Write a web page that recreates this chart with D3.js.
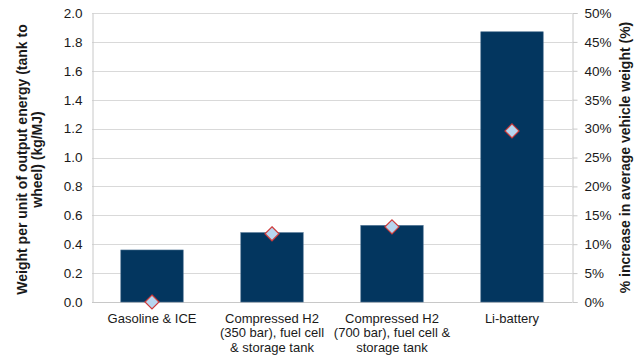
<!DOCTYPE html>
<html>
<head>
<meta charset="utf-8">
<script src="https://cdn.jsdelivr.net/npm/d3@7/dist/d3.min.js"></script>
<style>
  body { margin: 0; background: #fff; }
  svg text { font-family: "Liberation Sans", Arial, sans-serif; fill: #1a1a1a; }
</style>
</head>
<body>
<svg id="chart" width="644" height="360"></svg>
<script>
// Powertrain options and their weights
const categories = [
  ["Gasoline & ICE"],
  ["Compressed H2", "(350 bar), fuel cell", "& storage tank"],
  ["Compressed H2", "(700 bar), fuel cell &", "storage tank"],
  ["Li-battery"]
];
const weightPerMJ = [0.36, 0.48, 0.53, 1.87];          // kg/MJ, bars (left axis)
const weightIncrease = [0.0, 0.118, 0.130, 0.296];     // share, diamonds (right axis)
const leftTicks = [0, 0.2, 0.4, 0.6, 0.8, 1.0, 1.2, 1.4, 1.6, 1.8, 2.0];
const rightTicks = [0, 0.05, 0.10, 0.15, 0.20, 0.25, 0.30, 0.35, 0.40, 0.45, 0.50];

const svg = d3.select("#chart");
const m = { left: 92, right: 72, top: 13, bottom: 58 };
const W = 644, H = 360;
const x0 = m.left, x1 = W - m.right, y0 = H - m.bottom, y1 = m.top;

const x = d3.scaleBand().domain(d3.range(categories.length)).range([x0, x1]).paddingInner(0.48).paddingOuter(0.24);
const yL = d3.scaleLinear().domain([0, 2]).range([y0, y1]);
const yR = d3.scaleLinear().domain([0, 0.5]).range([y0, y1]);

// gridlines
svg.append("g").selectAll("line").data(leftTicks.slice(1)).join("line")
  .attr("x1", x0).attr("x2", x1)
  .attr("y1", d => Math.round(yL(d)) + 0.5).attr("y2", d => Math.round(yL(d)) + 0.5)
  .attr("stroke", "#d9d9d9").attr("stroke-width", 1);

// left axis
const gl = svg.append("g").attr("transform", `translate(${x0 + 0.5},0)`)
  .call(d3.axisLeft(yL).tickValues(leftTicks).tickFormat(d3.format(".1f")).tickSize(0).tickPadding(10));
gl.select(".domain").attr("stroke", "#c8c8c8");
gl.selectAll("text").style("font-size", "13.5px").attr("fill", "#1a1a1a");

// right axis
const gr = svg.append("g").attr("transform", `translate(${x1 + 0.5},0)`)
  .call(d3.axisRight(yR).tickValues(rightTicks).tickFormat(d3.format(".0%")).tickSize(5).tickPadding(7));
gr.select(".domain").attr("stroke", "#c8c8c8");
gr.selectAll(".tick line").attr("stroke", "#c8c8c8");
gr.selectAll("text").style("font-size", "13.5px").attr("fill", "#1a1a1a");

// bottom baseline
svg.append("line").attr("x1", x0).attr("x2", x1).attr("y1", y0 + 0.5).attr("y2", y0 + 0.5)
  .attr("stroke", "#c8c8c8");

// bars
svg.append("g").selectAll("rect").data(weightPerMJ).join("rect")
  .attr("x", (d, i) => x(i)).attr("width", x.bandwidth())
  .attr("y", d => yL(d)).attr("height", d => y0 - yL(d))
  .attr("fill", "#03365f").attr("stroke", "#4a6f90").attr("stroke-width", 0.6);

// diamonds
const r = 7;
svg.append("g").selectAll("path").data(weightIncrease).join("path")
  .attr("d", (d, i) => {
    const cx = x(i) + x.bandwidth() / 2, cy = yR(d);
    return `M${cx},${cy - r}L${cx + r},${cy}L${cx},${cy + r}L${cx - r},${cy}Z`;
  })
  .attr("fill", "#b7d6ef").attr("stroke", "#cf3b3b").attr("stroke-width", 1.2);

// category labels
const cl = svg.append("g").selectAll("text").data(categories).join("text")
  .attr("text-anchor", "middle").style("font-size", "13px")
  .attr("x", (d, i) => x(i) + x.bandwidth() / 2);
cl.each(function(lines) {
  d3.select(this).selectAll("tspan").data(lines).join("tspan")
    .attr("x", d3.select(this).attr("x"))
    .attr("y", (d, j) => y0 + 21 + j * 14.3)
    .text(d => d);
});

// axis titles
const lt = svg.append("text").attr("text-anchor", "middle")
  .attr("transform", `translate(0,${(y0 + y1) / 2 + 2}) rotate(-90)`)
  .style("font-size", "14px").style("font-weight", "bold");
lt.append("tspan").attr("x", 0).attr("y", 27).text("Weight per unit of output energy (tank to");
lt.append("tspan").attr("x", 0).attr("y", 42).text("wheel) (kg/MJ)");

svg.append("text").attr("text-anchor", "middle")
  .attr("transform", `translate(630,${(y0 + y1) / 2}) rotate(-90)`)
  .style("font-size", "14px").style("font-weight", "bold")
  .text("% increase in average vehicle weight (%)");
</script>
</body>
</html>
